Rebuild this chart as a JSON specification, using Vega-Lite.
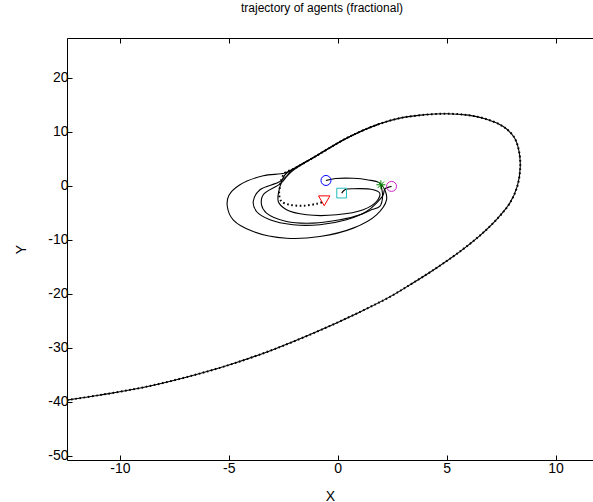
{
  "$schema": "https://vega.github.io/schema/vega-lite/v6.json",
  "width": 526,
  "height": 422,
  "autosize": {"type": "none"},
  "padding": {"left": 67, "top": 38, "right": 0, "bottom": 42},
  "background": "white",
  "title": {"text": "trajectory of agents (fractional)", "font": "Liberation Sans", "fontSize": 12, "fontWeight": "normal", "color": "black", "anchor": "middle", "dx": -8, "offset": 14, "baseline": "alphabetic"},
  "config": {
    "view": {"stroke": null},
    "axis": {"grid": false, "domainColor": "black", "tickColor": "black", "labelColor": "black", "labelFont": "Liberation Sans", "labelFontSize": 14, "titleFont": "Liberation Sans", "titleFontSize": 14, "titleFontWeight": "normal", "titleColor": "black", "tickSize": -5, "domainWidth": 1, "tickWidth": 1, "labelExpr": "'' + datum.value"}
  },
  "datasets": {
    "leader": [
      {"i":0,"x":-12.43,"y":-39.7},{"i":1,"x":-10.9,"y":-38.75},{"i":2,"x":-9,"y":-37.4},{"i":3,"x":-7,"y":-35.5},{"i":4,"x":-5,"y":-33.2},{"i":5,"x":-3,"y":-30.4},{"i":6,"x":-1,"y":-27.1},{"i":7,"x":1,"y":-23.4},{"i":8,"x":2.39,"y":-20.57},{"i":9,"x":3.45,"y":-18.0},{"i":10,"x":4.5,"y":-15.3},{"i":11,"x":5.5,"y":-12.5},{"i":12,"x":6.5,"y":-9.3},{"i":13,"x":7.3,"y":-6.2},{"i":14,"x":7.9,"y":-3.2},{"i":15,"x":8.25,"y":0.0},{"i":16,"x":8.38,"y":3.5},{"i":17,"x":8.32,"y":6.5},{"i":18,"x":8.1,"y":9.0},{"i":19,"x":7.6,"y":11.0},{"i":20,"x":6.8,"y":12.4},{"i":21,"x":6.0,"y":13.1},{"i":22,"x":5.0,"y":13.37},{"i":23,"x":3.8,"y":13.1},{"i":24,"x":2.8,"y":12.5},{"i":25,"x":1.93,"y":11.5},{"i":26,"x":1.0,"y":10.0},{"i":27,"x":0.25,"y":8.5},{"i":28,"x":-1.05,"y":5.4},{"i":29,"x":-2.0,"y":3.2},{"i":30,"x":-2.43,"y":2.37},
      {"i":31,"x":-2.6,"y":1.0},{"i":32,"x":-2.65,"y":-0.1},{"i":33,"x":-2.69,"y":-1.65},{"i":34,"x":-2.58,"y":-2.9},{"i":35,"x":-2.2,"y":-3.5},{"i":36,"x":-1.59,"y":-3.69},{"i":37,"x":-0.97,"y":-3.32},{"i":38,"x":-0.62,"y":-2.9}
    ],
    "followers": [
      {"a":"a1","i":0,"x":-12.43,"y":-39.7},{"a":"a1","i":1,"x":-10.9,"y":-38.75},{"a":"a1","i":2,"x":-9,"y":-37.4},{"a":"a1","i":3,"x":-7,"y":-35.5},{"a":"a1","i":4,"x":-5,"y":-33.2},{"a":"a1","i":5,"x":-3,"y":-30.4},{"a":"a1","i":6,"x":-1,"y":-27.1},{"a":"a1","i":7,"x":1,"y":-23.4},{"a":"a1","i":8,"x":2.39,"y":-20.57},{"a":"a1","i":9,"x":3.45,"y":-18.0},{"a":"a1","i":10,"x":4.5,"y":-15.3},{"a":"a1","i":11,"x":5.5,"y":-12.5},{"a":"a1","i":12,"x":6.5,"y":-9.3},{"a":"a1","i":13,"x":7.3,"y":-6.2},{"a":"a1","i":14,"x":7.9,"y":-3.2},{"a":"a1","i":15,"x":8.25,"y":0.0},{"a":"a1","i":16,"x":8.38,"y":3.5},{"a":"a1","i":17,"x":8.32,"y":6.5},{"a":"a1","i":18,"x":8.1,"y":9.0},{"a":"a1","i":19,"x":7.6,"y":11.0},{"a":"a1","i":20,"x":6.8,"y":12.4},{"a":"a1","i":21,"x":6.0,"y":13.1},{"a":"a1","i":22,"x":5.0,"y":13.37},{"a":"a1","i":23,"x":3.8,"y":13.1},{"a":"a1","i":24,"x":2.8,"y":12.5},{"a":"a1","i":25,"x":1.93,"y":11.5},{"a":"a1","i":26,"x":1.0,"y":10.0},{"a":"a1","i":27,"x":0.25,"y":8.5},{"a":"a1","i":28,"x":-1.05,"y":5.4},{"a":"a1","i":29,"x":-2.0,"y":3.2},{"a":"a1","i":30,"x":-2.43,"y":2.37},
      {"a":"a1","i":31,"x":-3.42,"y":1.87},{"a":"a1","i":32,"x":-4.49,"y":0.2},{"a":"a1","i":33,"x":-5.0,"y":-1.8},{"a":"a1","i":34,"x":-5.07,"y":-3.82},{"a":"a1","i":35,"x":-4.8,"y":-6.29},{"a":"a1","i":36,"x":-3.88,"y":-8.46},{"a":"a1","i":37,"x":-2.35,"y":-9.7},{"a":"a1","i":38,"x":-0.82,"y":-9.38},{"a":"a1","i":39,"x":0.71,"y":-7.83},{"a":"a1","i":40,"x":1.78,"y":-5.36},{"a":"a1","i":41,"x":2.24,"y":-2.58},{"a":"a1","i":42,"x":2.16,"y":-0.72},{"a":"a1","i":43,"x":1.9,"y":0.6},{"a":"a1","i":44,"x":1.4,"y":1.1},{"a":"a1","i":45,"x":0.71,"y":1.4},{"a":"a1","i":46,"x":-0.1,"y":1.35},{"a":"a1","i":47,"x":-0.54,"y":1.0},
      {"a":"a2","i":0,"x":1.93,"y":11.5},{"a":"a2","i":1,"x":1.0,"y":10.0},{"a":"a2","i":2,"x":0.25,"y":8.5},{"a":"a2","i":3,"x":-1.05,"y":5.4},{"a":"a2","i":4,"x":-2.0,"y":3.0},{"a":"a2","i":5,"x":-2.65,"y":0.8},{"a":"a2","i":6,"x":-3.57,"y":-0.72},{"a":"a2","i":7,"x":-3.88,"y":-2.9},{"a":"a2","i":8,"x":-3.73,"y":-4.75},{"a":"a2","i":9,"x":-3.11,"y":-6.29},{"a":"a2","i":10,"x":-2.05,"y":-7.2},{"a":"a2","i":11,"x":-0.82,"y":-7.2},{"a":"a2","i":12,"x":0.4,"y":-6.29},{"a":"a2","i":13,"x":1.32,"y":-4.75},{"a":"a2","i":14,"x":1.78,"y":-3.2},{"a":"a2","i":15,"x":2.09,"y":-1.65},{"a":"a2","i":16,"x":2.16,"y":-0.6},{"a":"a2","i":17,"x":2.47,"y":-0.1},
      {"a":"a3","i":0,"x":1.93,"y":11.5},{"a":"a3","i":1,"x":1.0,"y":10.0},{"a":"a3","i":2,"x":0.25,"y":8.5},{"a":"a3","i":3,"x":-1.05,"y":5.4},{"a":"a3","i":4,"x":-2.1,"y":2.9},{"a":"a3","i":5,"x":-2.6,"y":0.5},{"a":"a3","i":6,"x":-3.42,"y":-1.65},{"a":"a3","i":7,"x":-3.5,"y":-3.5},{"a":"a3","i":8,"x":-3.27,"y":-5.05},{"a":"a3","i":9,"x":-2.35,"y":-6.6},{"a":"a3","i":10,"x":-1.13,"y":-6.9},{"a":"a3","i":11,"x":0.1,"y":-6.29},{"a":"a3","i":12,"x":1.02,"y":-5.36},{"a":"a3","i":13,"x":1.5,"y":-4.5},{"a":"a3","i":14,"x":1.93,"y":-3.8},{"a":"a3","i":15,"x":2.06,"y":-1.96},{"a":"a3","i":16,"x":1.98,"y":0.2},
      {"a":"a4","i":0,"x":-2.0,"y":3.2},{"a":"a4","i":1,"x":-2.43,"y":2.0},{"a":"a4","i":2,"x":-2.65,"y":-0.1},{"a":"a4","i":3,"x":-2.73,"y":-2.9},{"a":"a4","i":4,"x":-2.35,"y":-4.43},{"a":"a4","i":5,"x":-1.43,"y":-5.36},{"a":"a4","i":6,"x":-0.05,"y":-5.36},{"a":"a4","i":7,"x":1.17,"y":-4.43},{"a":"a4","i":8,"x":1.78,"y":-2.9},{"a":"a4","i":9,"x":1.93,"y":-1.34},{"a":"a4","i":10,"x":1.63,"y":-0.72},{"a":"a4","i":11,"x":0.71,"y":-0.54},{"a":"a4","i":12,"x":0.33,"y":-0.72},{"a":"a4","i":13,"x":0.18,"y":-1.34}
    ],
    "markers": [
      {"a":"blue","x":-0.54,"y":1.0},
      {"a":"magenta","x":2.47,"y":-0.1},
      {"a":"green","x":1.98,"y":0.2},
      {"a":"cyan","x":0.18,"y":-1.34},
      {"a":"red","x":-0.62,"y":-2.77}
    ]
  },
  "layer": [
    {
      "data": {"name": "leader"},
      "mark": {"type": "line", "color": "black", "strokeWidth": 2, "strokeDash": [1.6, 2.6], "strokeCap": "butt", "interpolate": "catmull-rom", "clip": true},
      "encoding": {
        "x": {"field": "x", "type": "quantitative", "scale": {"domain": [-12.43, 11.72], "nice": false, "zero": false},
              "axis": {"orient": "bottom", "values": [-10, -5, 0, 5, 10], "title": "X", "labelPadding": 6, "titleY": 40, "titleBaseline": "alphabetic"}},
        "y": {"field": "y", "type": "quantitative", "scale": {"domain": [-50.8, 27.4], "nice": false, "zero": false},
              "axis": {"orient": "left", "values": [-50, -40, -30, -20, -10, 0, 10, 20], "title": "Y", "labelPadding": 4, "titleX": -42, "titleBaseline": "alphabetic"}},
        "order": {"field": "i", "type": "quantitative"}
      }
    },
    {
      "data": {"name": "followers"},
      "mark": {"type": "line", "color": "black", "strokeWidth": 1.1, "interpolate": "catmull-rom", "clip": true},
      "encoding": {
        "x": {"field": "x", "type": "quantitative", "scale": {"domain": [-12.43, 11.72], "nice": false, "zero": false},
              "axis": {"orient": "top", "values": [-10, -5, 0, 5, 10], "labels": false, "title": null}},
        "y": {"field": "y", "type": "quantitative", "scale": {"domain": [-50.8, 27.4], "nice": false, "zero": false}, "axis": null},
        "detail": {"field": "a", "type": "nominal"},
        "order": {"field": "i", "type": "quantitative"}
      }
    },
    {
      "data": {"name": "markers"},
      "mark": {"type": "point", "filled": false, "strokeWidth": 1, "opacity": 1},
      "encoding": {
        "x": {"field": "x", "type": "quantitative", "scale": {"domain": [-12.43, 11.72], "nice": false, "zero": false}, "axis": null},
        "y": {"field": "y", "type": "quantitative", "scale": {"domain": [-50.8, 27.4], "nice": false, "zero": false}, "axis": null},
        "shape": {"field": "a", "type": "nominal", "legend": null,
                  "scale": {"domain": ["blue", "magenta", "green", "cyan", "red"], "range": ["circle", "circle", "M-1,0L1,0M0,-1L0,1M-0.7,-0.7L0.7,0.7M-0.7,0.7L0.7,-0.7", "square", "triangle-down"]}},
        "color": {"field": "a", "type": "nominal", "legend": null,
                  "scale": {"domain": ["blue", "magenta", "green", "cyan", "red"], "range": ["#0000ff", "#cc22cc", "#008000", "#22bbbb", "#ff0000"]}},
        "size": {"field": "a", "type": "nominal", "legend": null,
                 "scale": {"type": "ordinal", "domain": ["blue", "magenta", "green", "cyan", "red"], "range": [100, 100, 80, 95, 130]}}
      }
    }
  ],
  "resolve": {"scale": {"x": "independent", "y": "independent"}, "axis": {"x": "independent", "y": "independent"}}
}
